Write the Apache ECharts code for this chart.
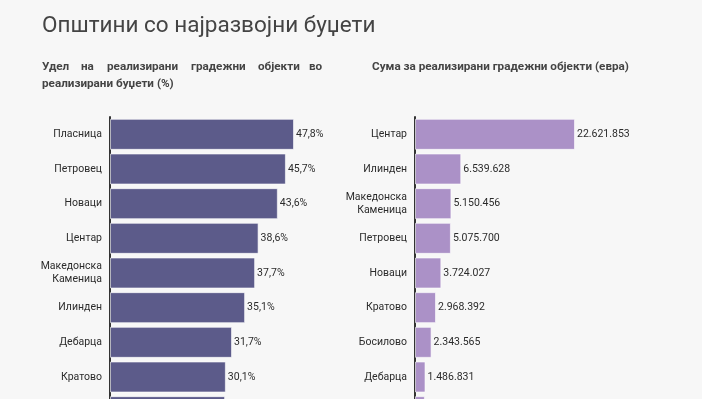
<!DOCTYPE html>
<html>
<head>
<meta charset="utf-8">
<script src="https://cdn.jsdelivr.net/npm/echarts@6/dist/echarts.min.js"></script>
<style>
    html, body { margin: 0; padding: 0; background: #f7f7f7; overflow: hidden; }
    #chart { width: 702px; height: 440px; }
</style>
</head>
<body>
<div id="chart"></div>
<script>
// Удел на реализирани градежни објекти (%)
var shareCities = ['Пласница', 'Петровец', 'Новаци', 'Центар', 'Македонска\nКаменица', 'Илинден', 'Дебарца', 'Кратово', 'Босилово'];
var shareValues = [47.8, 45.7, 43.6, 38.6, 37.7, 35.1, 31.7, 30.1, 29.9];

// Сума за реализирани градежни објекти (евра)
var sumCities = ['Центар', 'Илинден', 'Македонска\nКаменица', 'Петровец', 'Новаци', 'Кратово', 'Босилово', 'Дебарца', 'Пласница'];
var sumValues = [22621853, 6539628, 5150456, 5075700, 3724027, 2968392, 2343565, 1486831, 1400000];

var titleText = 'Општини со најразвојни буџети';
var leftHeadWords = ['Удел', 'на', 'реализирани', 'градежни', 'објекти', 'во'];
var leftHeadLine2 = 'реализирани буџети (%)';
var rightHead = 'Сума за реализирани градежни објекти (евра)';

var font = 'Roboto, "Noto Sans", sans-serif';
var headFont = 'bold 11.7px ' + font;

// рачно порамнување на зборовите (justify)
var wordX = [42, 81, 107, 191, 258, 309];
var headElems = [];
for (var i = 0; i < leftHeadWords.length; i++) {
    headElems.push({
        type: 'text', x: wordX[i], y: 67,
        style: { text: leftHeadWords[i], font: headFont, fill: '#444', verticalAlign: 'middle' }
    });
}
headElems.push({
    type: 'text', x: 42, y: 84,
    style: { text: leftHeadLine2, font: headFont, fill: '#444', verticalAlign: 'middle' }
});
headElems.push({
    type: 'text', x: 372, y: 67,
    style: { text: rightHead, font: headFont, fill: '#444', verticalAlign: 'middle' }
});

function fmtThousands(v) {
    return String(Math.round(v)).replace(/\B(?=(\d{3})+(?!\d))/g, '.');
}

function yAxisCfg(idx, cats) {
    return {
        type: 'category',
        gridIndex: idx,
        data: cats,
        inverse: true,
        axisLine: { show: true, lineStyle: { color: '#333', width: 2 } },
        axisTick: { show: false },
        axisLabel: { color: '#2b2b2b', fontSize: 10.5, fontFamily: font, margin: 8, lineHeight: 13 },
        splitLine: { show: false }
    };
}

var chart = echarts.init(document.getElementById('chart'));
chart.setOption({
    backgroundColor: '#f7f7f7',
    animation: false,
    title: {
        text: titleText,
        left: 37, top: 10,
        textStyle: { fontFamily: font, fontSize: 22.5, fontWeight: 'normal', color: '#444' }
    },
    graphic: headElems,
    grid: [
        { left: 110, right: 408, top: 117, height: 312 },
        { left: 415, right: 127, top: 117, height: 312 }
    ],
    xAxis: [
        { type: 'value', gridIndex: 0, min: 0, max: 'dataMax', show: false },
        { type: 'value', gridIndex: 1, min: 0, max: 'dataMax', show: false }
    ],
    yAxis: [yAxisCfg(0, shareCities), yAxisCfg(1, sumCities)],
    series: [
        {
            type: 'bar',
            xAxisIndex: 0, yAxisIndex: 0,
            data: shareValues,
            barWidth: 31,
            itemStyle: { color: '#5c5b8a', borderColor: 'rgba(255,255,255,0.6)', borderWidth: 1 },
            label: {
                show: true, position: 'right', distance: 2,
                color: '#2b2b2b', fontSize: 10.5, fontFamily: font,
                formatter: function (p) { return p.value.toFixed(1).replace('.', ',') + '%'; }
            }
        },
        {
            type: 'bar',
            xAxisIndex: 1, yAxisIndex: 1,
            data: sumValues,
            barWidth: 31,
            itemStyle: { color: '#ab91c7', borderColor: 'rgba(255,255,255,0.6)', borderWidth: 1 },
            label: {
                show: true, position: 'right', distance: 2,
                color: '#2b2b2b', fontSize: 10.5, fontFamily: font,
                formatter: function (p) { return fmtThousands(p.value); }
            }
        }
    ]
});
</script>
</body>
</html>
